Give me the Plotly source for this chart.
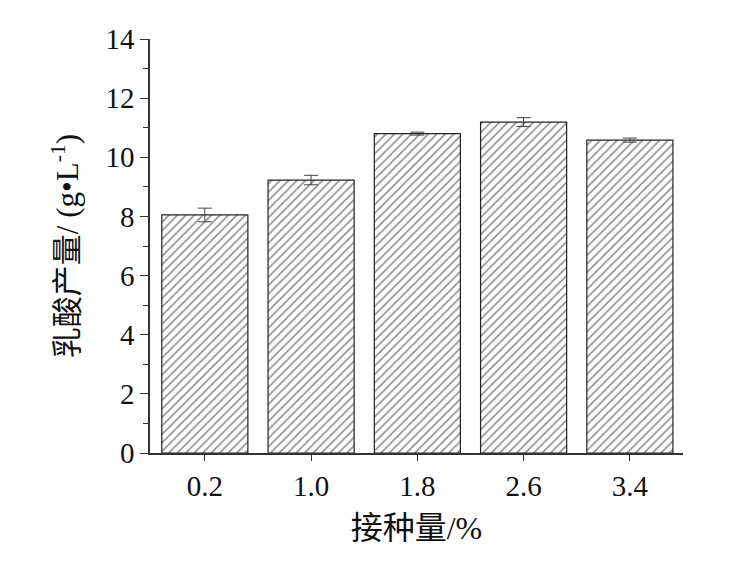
import plotly.graph_objects as go

categories = ["0.2", "1.0", "1.8", "2.6", "3.4"]
yield_values = [8.05, 9.23, 10.80, 11.19, 10.58]
yield_errors = [0.23, 0.16, 0.05, 0.15, 0.07]
y_ticks = [0, 2, 4, 6, 8, 10, 12, 14]

font_family = "Liberation Serif, Times New Roman, Noto Sans CJK SC, serif"
axis_color = "#333333"

fig = go.Figure(go.Bar(
    x=categories,
    y=yield_values,
    width=0.81,
    error_y=dict(type="data", array=yield_errors, visible=True,
                 color="#444444", thickness=1, width=7),
    marker=dict(
        color="white",
        line=dict(color="#222222", width=1.2),
        pattern=dict(shape="/", fgcolor="#2a2a2a", bgcolor="white",
                     size=6, solidity=0.3),
    ),
))

fig.update_layout(
    width=742, height=572,
    margin=dict(l=142, r=67, t=31, b=127),
    paper_bgcolor="white", plot_bgcolor="white",
    font=dict(family=font_family, size=29, color="#111111"),
    showlegend=False,
)

fig.update_xaxes(
    type="category",
    range=[-0.516, 4.5],
    showline=True, linecolor=axis_color, linewidth=1.5,
    ticks="outside", ticklen=6, tickwidth=1.2, tickcolor=axis_color,
    showgrid=False, zeroline=False,
    title=dict(text="接种量/%", font=dict(size=32), standoff=16),
)

fig.update_yaxes(
    range=[0, 14],
    tickvals=y_ticks,
    showline=True, linecolor=axis_color, linewidth=1.5,
    ticks="outside", ticklen=8, tickwidth=1.2, tickcolor=axis_color,
    minor=dict(dtick=1, ticks="outside", ticklen=5, tickcolor=axis_color, tickwidth=1),
    showgrid=False, zeroline=False,
    title=dict(text="乳酸产量/ (g•L<sup>-1</sup>)", font=dict(size=31), standoff=18),
)

fig.write_html("out.html")
